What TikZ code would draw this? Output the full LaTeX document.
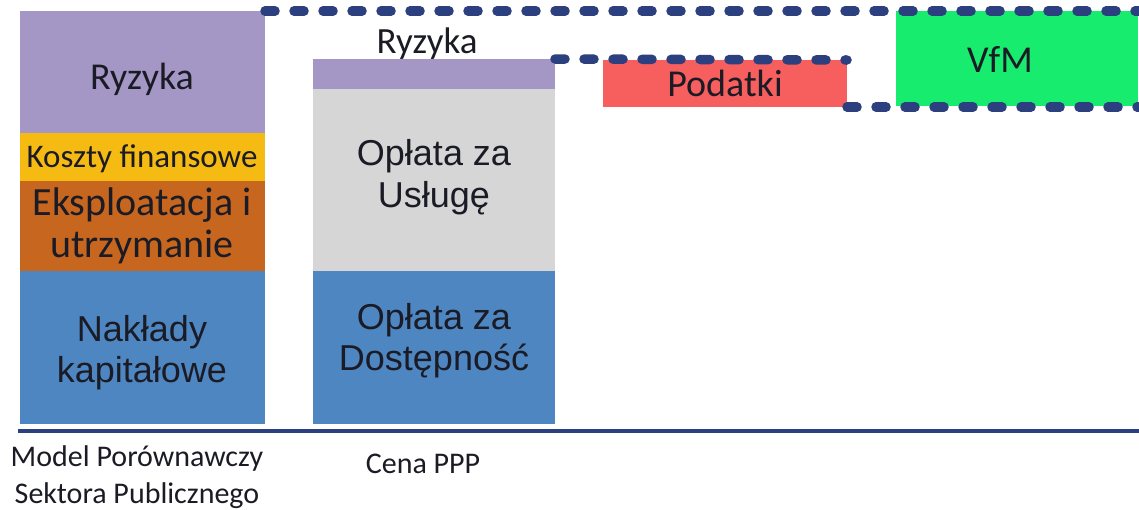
\documentclass[tikz,border=0pt]{standalone}
\usepackage{fontspec}
\setmainfont{Carlito}
\newfontfamily\arialf{Liberation Sans}
\definecolor{riskpurple}{HTML}{A597C5}
\definecolor{fingold}{HTML}{F5BB12}
\definecolor{opsorange}{HTML}{C6661F}
\definecolor{capblue}{HTML}{4E86C1}
\definecolor{svcgray}{HTML}{D6D6D6}
\definecolor{taxred}{HTML}{F75E5E}
\definecolor{vfmgreen}{HTML}{18EC6E}
\definecolor{navy}{HTML}{2C3F7E}
\definecolor{ink}{HTML}{1B1B26}
\tikzset{
  seg/.style={rectangle, inner sep=0pt, outer sep=0pt, draw=none, anchor=north west},
  txt/.style={inner sep=0pt, text=ink, anchor=base},
  calf/.style 2 args={font=\fontsize{#1}{#2}\selectfont},
  arf/.style 2 args={font=\arialf\fontsize{#1}{#2}\selectfont},
  dotline/.style={draw=navy, line width=9.5pt, line cap=round, dash pattern=on 10pt off 19pt},
  axisline/.style={draw=navy, line width=4.5pt}
}
\begin{document}
\begin{tikzpicture}[x=1pt,y=-1pt]
\useasboundingbox (0,0) rectangle (1139,509);

% public sector comparator column
\node[seg, fill=riskpurple, minimum width=245pt, minimum height=122pt] (ryzA) at (20,11) {};
\node[seg, fill=fingold,   minimum width=245pt, minimum height=48pt]  (fin)  at (20,133) {};
\node[seg, fill=opsorange, minimum width=245pt, minimum height=90pt]  (ops)  at (20,181) {};
\node[seg, fill=capblue,   minimum width=245pt, minimum height=153pt] (cap)  at (20,271) {};

% PPP price column
\node[seg, fill=riskpurple, minimum width=242pt, minimum height=30pt]  (ryzB) at (313,59) {};
\node[seg, fill=svcgray,    minimum width=242pt, minimum height=182pt] (svc)  at (313,89) {};
\node[seg, fill=capblue,    minimum width=242pt, minimum height=153pt] (avl)  at (313,271) {};

% taxes and value for money
\node[seg, fill=taxred,   minimum width=244pt, minimum height=47pt] (pod) at (603,60) {};
\node[seg, fill=vfmgreen, minimum width=242pt, minimum height=95pt] (vfm) at (896,11) {};

% labels inside the bars (multi-line labels sit on their last baseline)
\node[txt, calf={38}{38}] (tRyzA) at (142,89) {Ryzyka};
\node[txt, calf={33}{33}] (tFin)  at (142,167) {Koszty finansowe};
\node[txt, calf={40}{42}, align=center] (tOps) at (142,257) {Eksploatacja i\\utrzymanie};
\node[txt, arf={36}{41}, align=center] (tCap) at (142,382) {Nakłady\\kapitałowe};
\node[txt, calf={37}{37}] (tRyzB) at (427,53) {Ryzyka};
\node[txt, arf={36}{42}, align=center] (tSvc) at (434,207) {Opłata za\\Usługę};
\node[txt, arf={36}{41}, align=center] (tAvl) at (434,370) {Opłata za\\Dostępność};
\node[txt, calf={38}{38}] (tPod) at (725,96) {Podatki};
\node[txt, calf={38}{38}] (tVfm) at (1000,72) {VfM};

% axis and column captions
\coordinate (axL) at (18,431);
\coordinate (axR) at (1139,431);
\draw[axisline] (axL) -- (axR);
\node[txt, calf={30}{37}, align=center] (capA) at (137,503) {Model Porównawczy\\Sektora Publicznego};
\node[txt, calf={30}{30}] (capB) at (423,473) {Cena PPP};

% dotted comparison lines
\coordinate (topR) at (1139,11);
\coordinate (lowR) at (1139,107);
\draw[dotline] (ryzA.north east) -- (topR);
\draw[dotline] (ryzB.north east) -- (pod.north east);
\draw[dotline] (pod.south east) -- (lowR);
\end{tikzpicture}
\end{document}
